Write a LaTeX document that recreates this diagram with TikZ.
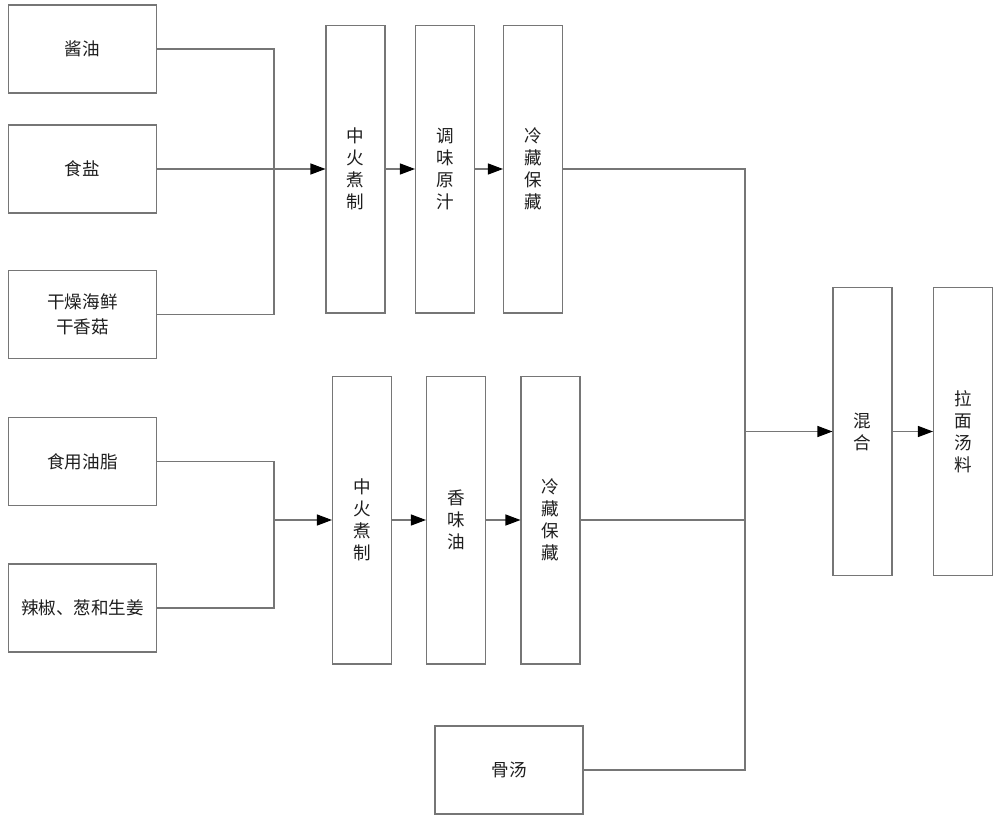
\documentclass[tikz,border=0pt]{standalone}
\usepackage{fontspec}
\newfontfamily\cjk{Noto Sans CJK SC}
\usetikzlibrary{arrows.meta}

\begin{document}
\begin{tikzpicture}[x=0.02cm, y=-0.02cm]
    % Define colours
    \definecolor{borderColour}{HTML}{767676}
    \definecolor{textColour}{HTML}{1E1E1E}

    % Define box and line styles
    \tikzset{
        wideBox/.style={draw=borderColour, line width=0.6pt, minimum width=2.96cm, minimum height=1.76cm,
            inner sep=0pt, align=center, text=textColour, font=\cjk\fontsize{10}{14}\selectfont},
        tallBox/.style={wideBox, minimum width=1.18cm, minimum height=5.76cm, font=\cjk\fontsize{10}{12.5}\selectfont},
        flowLine/.style={draw=borderColour, line width=0.6pt},
        flowArrow/.style={flowLine, -{Triangle[length=0.3cm, width=0.22cm, black]}}
    }

    % Fix the page size
    \useasboundingbox (0,0) rectangle (1000,821);

    % Draw the sauce inputs
    \node[wideBox] (soy) at (82.5,49) {酱油};
    \node[wideBox] (salt) at (82.5,169) {食盐};
    \node[wideBox] (seafood) at (82.5,314.5) {干燥海鲜\\干香菇};

    % Draw the sauce steps
    \node[tallBox] (cookA) at (355.5,169) {中\\火\\煮\\制};
    \node[tallBox] (juice) at (445,169) {调\\味\\原\\汁};
    \node[tallBox] (coldA) at (533,169) {冷\\藏\\保\\藏};

    % Draw the oil inputs
    \node[wideBox] (oil) at (82.5,461.5) {食用油脂};
    \node[wideBox] (chili) at (82.5,608) {辣椒、葱和生姜};

    % Draw the oil steps
    \node[tallBox] (cookB) at (362,520) {中\\火\\煮\\制};
    \node[tallBox] (aroma) at (456,520) {香\\味\\油};
    \node[tallBox] (coldB) at (550.5,520) {冷\\藏\\保\\藏};

    % Draw the broth and the final steps
    \node[wideBox] (bone) at (509,770) {骨汤};
    \node[tallBox] (mix) at (862.5,431.5) {混\\合};
    \node[tallBox] (noodle) at (963,431.5) {拉\\面\\汤\\料};

    % Define the join lines
    \coordinate (joinLeft) at (274,0);
    \coordinate (joinRight) at (745,0);

    % Connect the sauce part
    \draw[flowLine] (soy.east) -- (soy.east -| joinLeft) |- (seafood.east);
    \draw[flowArrow] (salt) -- (cookA);
    \draw[flowArrow] (cookA) -- (juice);
    \draw[flowArrow] (juice) -- (coldA);

    % Connect the oil part
    \draw[flowLine] (oil.east) -- (oil.east -| joinLeft) |- (chili.east);
    \draw[flowArrow] (cookB.west -| joinLeft) -- (cookB.west);
    \draw[flowArrow] (cookB) -- (aroma);
    \draw[flowArrow] (aroma) -- (coldB);

    % Connect everything to the mix
    \draw[flowLine] (coldA.east) -- (coldA.east -| joinRight) |- (bone.east);
    \draw[flowLine] (coldB.east) -- (coldB.east -| joinRight);
    \draw[flowArrow] (mix.west -| joinRight) -- (mix.west);
    \draw[flowArrow] (mix) -- (noodle);

\end{tikzpicture}
\end{document}
